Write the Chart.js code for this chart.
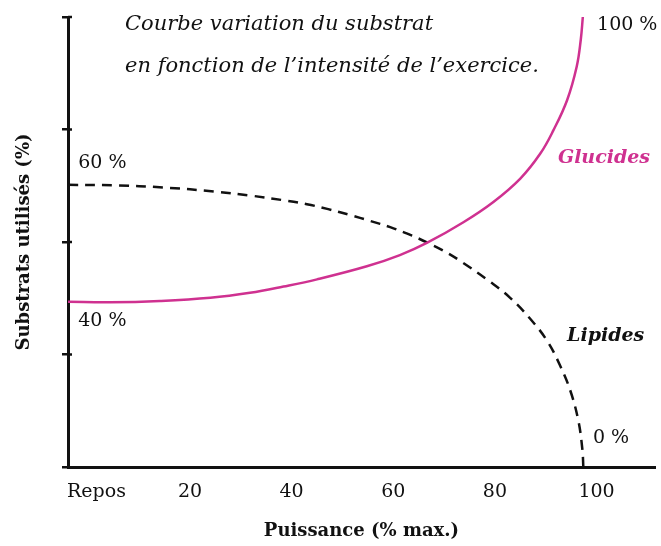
<!DOCTYPE html>
<html>
<head>
<meta charset="utf-8">
<script src="https://cdn.jsdelivr.net/npm/chart.js@4"></script>
<style>
  html, body { margin: 0; padding: 0; background: #fff; }
  #wrap { width: 661px; height: 546px; }
</style>
</head>
<body>
<div id="wrap"><canvas id="substrat" width="661" height="546"></canvas></div>
<script>
// --- Data ---
const glucX = [-4, 4.3, 14.1, 24, 31.8, 38.4, 45, 54.8, 61.3, 66.6, 73.8, 79.7, 85, 88.9, 91.5, 94.2, 96.1, 96.9, 97.3];
const glucY = [36.7, 36.6, 36.9, 37.6, 38.7, 40.1, 41.7, 44.6, 47.1, 49.8, 54.4, 58.9, 64.1, 69.6, 74.8, 81.5, 89, 95, 100];

const lipX = [-4, 5, 15, 25, 32, 38.3, 43, 47.2, 51.5, 55.4, 59.4, 63.7, 67.2, 70.6, 73.7, 79, 83, 86.9, 90.3, 92.8, 94.8, 96.4, 97.2, 97.4];
const lipY = [62.7, 62.6, 62.1, 61.2, 60.3, 59.3, 58.4, 57.3, 56, 54.7, 53.3, 51.4, 49.6, 47.6, 45.4, 41.2, 37.6, 33, 28, 22.6, 17.1, 10.4, 4, 0];

const xTickValues = [1.6, 20, 40, 60, 80, 100];
const xTickLabels = ['Repos', '20', '40', '60', '80', '100'];
const yTickValues = [0, 25, 50, 75, 100];

const titleLines = ['Courbe variation du substrat', "en fonction de l\u2019intensit\u00e9 de l\u2019exercice."];

// annotations: [text, x, y, style]
const notes = [
  ['100 %', 100.1, 98.2, 'plain'],
  ['60 %', -2, 67.6, 'plain'],
  ['40 %', -2, 32.4, 'plain'],
  ['0 %', 99.3, 6.4, 'plain'],
  ['Glucides', 92.4, 68.7, 'gluc'],
  ['Lipides', 94.2, 29.1, 'lip']
];

const MAGENTA = '#cf3190';
const SERIF = '"DejaVu Serif", "Liberation Serif", serif';

function toPoints(xs, ys) {
  return xs.map((x, i) => ({ x, y: ys[i] }));
}

// Draw texts on top of the chart
const notesPlugin = {
  id: 'notes',
  afterDraw(chart) {
    const { ctx, scales: { x, y } } = chart;
    ctx.save();
    ctx.textBaseline = 'middle';
    ctx.textAlign = 'left';
    notes.forEach(([t, vx, vy, style]) => {
      if (style === 'gluc') {
        ctx.font = 'italic bold 19px ' + SERIF;
        ctx.fillStyle = MAGENTA;
      } else if (style === 'lip') {
        ctx.font = 'italic bold 19px ' + SERIF;
        ctx.fillStyle = '#111';
      } else {
        ctx.font = '19px ' + SERIF;
        ctx.fillStyle = '#111';
      }
      ctx.fillText(t, x.getPixelForValue(vx), y.getPixelForValue(vy));
    });

    // small tick stubs on the inner side of the y axis
    ctx.strokeStyle = '#111';
    ctx.lineWidth = 2.5;
    yTickValues.slice(1).forEach(v => {
      const py = y.getPixelForValue(v);
      ctx.beginPath();
      ctx.moveTo(x.left, py);
      ctx.lineTo(x.left + 4, py);
      ctx.stroke();
    });

    // title
    ctx.font = 'italic 21px ' + SERIF;
    ctx.fillStyle = '#111';
    ctx.fillText(titleLines[0], 125, 25);
    ctx.fillText(titleLines[1], 125, 67);
    ctx.restore();
  }
};

const canvas = document.getElementById('substrat');

new Chart(canvas, {
  type: 'line',
  data: {
    datasets: [
      {
        label: 'Glucides',
        data: toPoints(glucX, glucY),
        borderColor: MAGENTA,
        borderWidth: 2.5,
        pointRadius: 0,
        tension: 0.4,
        fill: false
      },
      {
        label: 'Lipides',
        data: toPoints(lipX, lipY),
        borderColor: '#111',
        borderWidth: 2.5,
        borderDash: [10, 7],
        pointRadius: 0,
        tension: 0.4,
        fill: false
      }
    ]
  },
  options: {
    responsive: false,
    animation: false,
    layout: { padding: { top: 17, right: 6, left: 0, bottom: 0 } },
    plugins: {
      legend: { display: false },
      tooltip: { enabled: false }
    },
    scales: {
      x: {
        type: 'linear',
        min: -4,
        max: 111.5,
        afterFit(scale) { scale.height = 79; },
        afterBuildTicks(scale) {
          scale.ticks = xTickValues.map(v => ({ value: v }));
        },
        ticks: {
          autoSkip: false,
          maxRotation: 0,
          padding: 6,
          color: '#111',
          font: { family: SERIF, size: 19 },
          callback: (v) => xTickLabels[xTickValues.indexOf(v)]
        },
        grid: { display: false },
        border: { display: true, color: '#111', width: 3 },
        title: {
          display: true,
          text: 'Puissance (% max.)',
          color: '#111',
          font: { family: SERIF, size: 18, weight: 'bold' },
          padding: { top: 23 }
        }
      },
      y: {
        type: 'linear',
        min: 0,
        max: 100,
        afterFit(scale) { scale.width = 68; },
        afterBuildTicks(scale) {
          scale.ticks = yTickValues.map(v => ({ value: v }));
        },
        ticks: { display: false },
        grid: {
          display: true,
          drawOnChartArea: false,
          drawTicks: true,
          tickLength: 6,
          color: '#111',
          lineWidth: 2.5
        },
        border: { display: true, color: '#111', width: 3 },
        title: {
          display: true,
          text: 'Substrats utilis\u00e9s (%)',
          color: '#111',
          font: { family: SERIF, size: 18, weight: 'bold' },
          padding: { top: 14, bottom: 0 }
        }
      }
    }
  },
  plugins: [notesPlugin]
});
</script>
</body>
</html>
